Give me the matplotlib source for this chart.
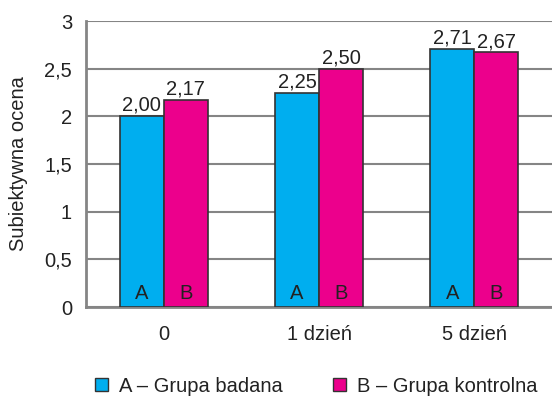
import numpy as np
import matplotlib.pyplot as plt
from matplotlib.patches import Patch

plt.rcParams['font.family'] = ['Liberation Sans', 'DejaVu Sans']

# data
categories = ['0', '1 dzień', '5 dzień']
grupa_a = [2.00, 2.25, 2.71]
grupa_b = [2.17, 2.50, 2.67]
labels_a = ['2,00', '2,25', '2,71']
labels_b = ['2,17', '2,50', '2,67']
yticks = [0, 0.5, 1, 1.5, 2, 2.5, 3]
ytick_labels = ['0', '0,5', '1', '1,5', '2', '2,5', '3']

col_a = '#00AEEF'
col_b = '#EC008C'
edge = '#333333'
grid_col = '#858585'
txt = '#222222'
fs = 14.5

fig = plt.figure(figsize=(5.52, 3.98), dpi=100)
ax = fig.add_axes([0.1558, 0.2286, 0.8442, 0.7186])

x = np.arange(len(categories))
w = 0.283

bars_a = ax.bar(x - w/2, grupa_a, w, color=col_a, edgecolor=edge, linewidth=1.2, zorder=3)
bars_b = ax.bar(x + w/2, grupa_b, w, color=col_b, edgecolor=edge, linewidth=1.2, zorder=3)

# value labels above bars, letters at the bottom
for bars, labs, letter in [(bars_a, labels_a, 'A'), (bars_b, labels_b, 'B')]:
    for b, lab in zip(bars, labs):
        cx = b.get_x() + b.get_width()/2
        ax.text(cx, b.get_height() + 0.015, lab, ha='center', va='bottom',
                fontsize=fs, color=txt)
        ax.text(cx, 0.04, letter, ha='center', va='bottom',
                fontsize=fs, color=txt, zorder=4)

ax.set_xlim(-0.5, 2.5)
ax.set_ylim(0, 3)
ax.set_xticks(x)
ax.set_xticklabels(categories, fontsize=fs, color=txt)
ax.set_yticks(yticks)
ax.set_yticklabels(ytick_labels, fontsize=fs, color=txt)
ax.tick_params(axis='both', length=0)
ax.tick_params(axis='y', pad=10)
ax.tick_params(axis='x', pad=13)
ax.yaxis.grid(True, color=grid_col, linewidth=1.5, zorder=0)
ax.set_ylabel('Subiektywna ocena', fontsize=fs, color=txt, labelpad=12)

for s in ['top', 'right']:
    ax.spines[s].set_visible(False)
for s in ['left', 'bottom']:
    ax.spines[s].set_color(grid_col)
    ax.spines[s].set_linewidth(2)

handles = [Patch(facecolor=col_a, edgecolor=edge, label='A – Grupa badana'),
           Patch(facecolor=col_b, edgecolor=edge, label='B – Grupa kontrolna')]
fig.legend(handles=handles, loc='center left', bbox_to_anchor=(0.172, 0.03),
           ncol=2, frameon=False, fontsize=fs, handlelength=0.65, handleheight=0.65,
           handletextpad=0.55, columnspacing=2.5, borderpad=0, borderaxespad=0,
           labelcolor=txt)

fig.savefig('out.png', dpi=100)
